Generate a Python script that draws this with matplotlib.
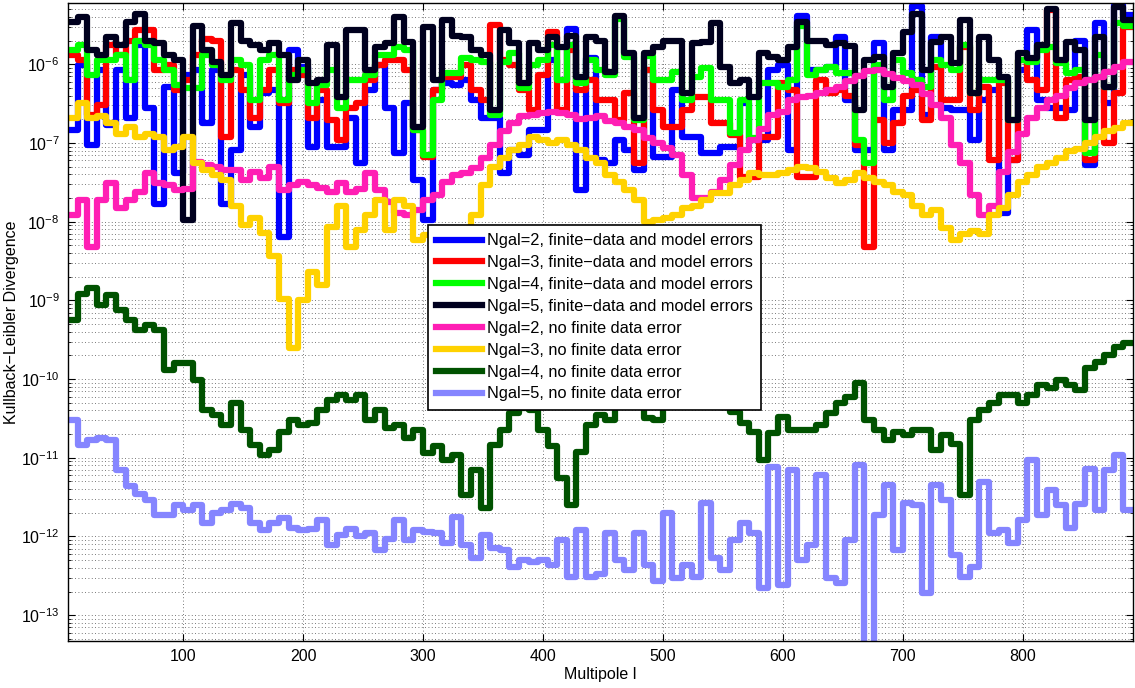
import numpy as np
import matplotlib.pyplot as plt
from matplotlib import ticker

plt.rcParams['font.family'] = ['Liberation Sans', 'DejaVu Sans']
plt.rcParams['mathtext.default'] = 'regular'

# multipole bins, 8 wide, from l=4 to l=892
ell_edges = np.linspace(4, 892, 112)

# finite-data and model errors
kl_full_2 = [
    1.45e-7, 9.7e-7, 9.3e-8, 8.4e-7, 1.68e-7, 8.4e-7, 2.1e-7, 1.75e-6, 2.8e-7, 1.7e-8,
    5.1e-7, 4.1e-8, 7.2e-7, 8.4e-7, 1.78e-7, 8.4e-7, 1.7e-8, 8.1e-8, 7.2e-7, 1.58e-7,
    4.3e-7, 4.7e-7, 6.3e-9, 1.5e-6, 9.2e-7, 8.8e-8, 3.5e-7, 8.8e-8, 8.8e-8, 2.1e-7,
    5.5e-8, 4.7e-7, 9.7e-7, 2.8e-7, 7.4e-8, 3.2e-7, 3.4e-8, 1.04e-8, 4.7e-7, 5.7e-7,
    5.4e-7, 6.3e-7, 3.5e-7, 2.1e-7, 2.06e-7, 4.1e-8, 8.1e-8, 7.0e-8, 1.45e-7, 1.45e-7,
    1.12e-6, 6.3e-7, 2.8e-6, 2.5e-8, 1.19e-6, 6.0e-8, 5.5e-8, 1.08e-7, 8.1e-8, 4.5e-8,
    8.4e-7, 6.6e-8, 6.6e-8, 4.7e-7, 1.18e-7, 1.18e-7, 7.4e-8, 7.4e-8, 8.8e-8, 8.8e-8,
    3.2e-7, 1.08e-7, 1.08e-7, 8.4e-7, 9.7e-7, 8.1e-8, 4.1e-6, 8.4e-7, 8.4e-7, 9.2e-7,
    2.2e-6, 3.5e-7, 8.1e-8, 8.1e-8, 1.85e-6, 8.1e-8, 2.6e-7, 2.6e-7, 5.5e-6, 2.25e-7,
    2.2e-6, 2.8e-7, 2.6e-7, 2.6e-7, 1.08e-7, 3.5e-7, 4.7e-7, 1.28e-8, 6.0e-8, 8.4e-7,
    2.7e-6, 3.5e-7, 2.8e-7, 2.8e-7, 2.6e-7, 2.0e-6, 5.2e-8, 3.3e-6, 3.2e-7, 5.6e-6, 4.2e-6]

kl_full_3 = [
    1.3e-6, 1.12e-6, 2.25e-7, 3.0e-7, 1.75e-6, 1.3e-6, 2.0e-6, 2.7e-6, 2.7e-6, 8.4e-7,
    9.7e-7, 4.7e-7, 6.3e-7, 1.3e-6, 2.1e-6, 2.0e-6, 1.18e-7, 8.4e-7, 4.7e-7, 2.1e-7,
    4.7e-7, 8.4e-7, 3.2e-7, 8.4e-7, 7.2e-7, 2.06e-7, 4.7e-7, 1.94e-7, 1.08e-7, 2.8e-7,
    3.2e-7, 6.3e-7, 9.7e-7, 1.12e-6, 1.12e-6, 8.4e-7, 1.45e-7, 6.6e-8, 4.7e-7, 6.8e-7,
    6.8e-7, 9.7e-7, 4.7e-7, 3.5e-7, 3.2e-6, 1.12e-6, 9.7e-7, 4.7e-7, 2.6e-7, 7.2e-7,
    2.55e-6, 2.6e-7, 1.5e-6, 4.7e-7, 6.3e-7, 3.5e-7, 3.5e-7, 1.94e-7, 4.3e-7, 5.5e-8,
    8.4e-7, 2.6e-7, 1.58e-7, 1.58e-7, 2.6e-7, 3.8e-7, 3.8e-7, 1.78e-7, 1.78e-7, 1.25e-7,
    3.7e-8, 3.7e-8, 1.18e-7, 1.18e-7, 5.7e-7, 4.7e-7, 3.7e-8, 3.7e-8, 6.3e-7, 4.3e-7,
    4.7e-7, 4.0e-7, 9.3e-8, 4.7e-9, 1.94e-7, 9.9e-8, 1.78e-7, 4.0e-7, 4.7e-7, 1.94e-7,
    9.2e-7, 3.5e-7, 3.5e-7, 1.65e-6, 2.6e-7, 5.1e-7, 6.0e-8, 5.7e-7, 6.0e-8, 1.12e-6,
    6.3e-7, 4.7e-7, 4.9e-6, 2.1e-7, 6.3e-7, 6.8e-7, 6.0e-8, 6.8e-7, 9.9e-8, 4.3e-7, 3.0e-6]

kl_full_4 = [
    1.5e-6, 1.75e-6, 7.2e-7, 1.12e-6, 1.12e-6, 1.3e-6, 6.3e-7, 2.0e-6, 1.75e-6, 1.12e-6,
    8.4e-7, 5.4e-7, 5.0e-7, 5.0e-7, 1.3e-6, 9.7e-7, 6.3e-7, 1.12e-6, 9.7e-7, 3.5e-7,
    1.12e-6, 1.3e-6, 3.5e-7, 7.2e-7, 8.4e-7, 3.2e-7, 5.4e-7, 8.4e-7, 2.8e-7, 6.3e-7,
    6.3e-7, 7.2e-7, 1.3e-6, 1.3e-6, 1.65e-6, 1.5e-6, 1.45e-7, 7.0e-8, 3.5e-7, 7.7e-7,
    7.7e-7, 1.19e-6, 1.12e-6, 1.06e-6, 2.25e-7, 1.06e-6, 1.4e-6, 5.0e-7, 9.7e-7, 1.12e-6,
    1.75e-6, 6.3e-7, 1.75e-6, 5.7e-7, 1.12e-6, 8.4e-7, 7.2e-7, 3.8e-6, 1.23e-6, 1.94e-7,
    1.26e-6, 6.3e-7, 6.3e-7, 7.9e-7, 3.5e-7, 6.8e-7, 8.9e-7, 3.5e-7, 3.5e-7, 1.33e-7,
    3.5e-7, 1.15e-7, 5.7e-7, 5.7e-7, 5.1e-7, 6.3e-7, 3.1e-6, 7.2e-7, 8.4e-7, 9.2e-7,
    7.7e-7, 7.7e-7, 1.08e-7, 5.5e-8, 9.7e-7, 3.5e-7, 1.12e-6, 7.7e-7, 6.3e-7, 5.1e-7,
    1.12e-6, 9.7e-7, 8.4e-7, 1.75e-6, 4.3e-7, 6.3e-7, 6.3e-7, 6.3e-7, 1.94e-7, 1.12e-6,
    1.06e-6, 1.5e-6, 1.65e-6, 1.03e-6, 7.7e-7, 8.4e-7, 7.4e-8, 1.3e-6, 5.1e-7, 3.3e-6, 3.1e-6]

kl_full_5 = [
    3.4e-6, 4.0e-6, 1.5e-6, 1.3e-6, 2.2e-6, 1.75e-6, 3.4e-6, 4.4e-6, 2.0e-6, 1.85e-6,
    1.3e-6, 1.12e-6, 1.04e-8, 3.1e-6, 1.5e-6, 1.06e-6, 7.2e-7, 3.3e-6, 2.0e-6, 1.75e-6,
    1.5e-6, 1.85e-6, 1.3e-6, 6.3e-7, 1.12e-6, 5.7e-7, 6.3e-7, 1.75e-6, 3.8e-7, 2.7e-6,
    2.7e-6, 8.4e-7, 1.65e-6, 1.85e-6, 4.0e-6, 1.9e-6, 1.6e-7, 3.0e-6, 6.3e-7, 3.6e-6,
    2.3e-6, 2.2e-6, 1.5e-6, 1.3e-6, 2.6e-7, 2.7e-6, 1.85e-6, 5.7e-7, 1.85e-6, 1.5e-6,
    2.2e-6, 1.65e-6, 2.3e-6, 6.8e-7, 2.2e-6, 2.0e-6, 7.9e-7, 4.1e-6, 1.4e-6, 2.1e-7,
    1.38e-6, 1.65e-6, 2.0e-6, 2.0e-6, 4.3e-7, 1.85e-6, 1.9e-6, 3.3e-6, 9.2e-7, 5.7e-7,
    6.3e-7, 3.8e-7, 1.38e-6, 1.23e-6, 1.12e-6, 1.65e-6, 3.4e-6, 2.0e-6, 2.0e-6, 1.75e-6,
    1.85e-6, 1.7e-6, 2.6e-7, 1.12e-6, 1.23e-6, 5.1e-7, 1.4e-6, 2.55e-6, 4.4e-6, 8.4e-7,
    1.9e-6, 2.2e-6, 1.03e-6, 3.6e-6, 4.3e-7, 2.2e-6, 1.12e-6, 6.8e-7, 1.94e-7, 1.38e-6,
    1.19e-6, 1.75e-6, 5.1e-6, 1.12e-6, 1.9e-6, 1.5e-6, 1.94e-7, 2.2e-6, 5.1e-7, 5.3e-6, 3.6e-6]

# no finite data error
kl_model_2 = [
    1.2e-8, 1.9e-8, 4.7e-9, 1.9e-8, 3.1e-8, 1.5e-8, 1.9e-8, 2.4e-8, 4.1e-8, 3.1e-8,
    2.9e-8, 2.5e-8, 2.6e-8, 5.7e-8, 5.2e-8, 4.9e-8, 4.5e-8, 4.5e-8, 3.4e-8, 4.3e-8,
    3.6e-8, 4.9e-8, 2.5e-8, 2.9e-8, 3.2e-8, 2.9e-8, 2.7e-8, 2.4e-8, 3.1e-8, 2.4e-8,
    2.6e-8, 4.1e-8, 2.5e-8, 1.8e-8, 1.3e-8, 1.2e-8, 1.4e-8, 1.9e-8, 2.2e-8, 3.2e-8,
    3.9e-8, 4.1e-8, 4.8e-8, 6.4e-8, 9.3e-8, 1.4e-7, 1.8e-7, 2.2e-7, 2.25e-7, 2.4e-7,
    2.5e-7, 2.4e-7, 2.3e-7, 2.0e-7, 2.1e-7, 2.2e-7, 1.9e-7, 1.8e-7, 1.6e-7, 1.45e-7,
    1.15e-7, 1.0e-7, 8.6e-8, 7.0e-8, 3.9e-8, 2.0e-8, 2.0e-8, 2.4e-8, 3.4e-8, 5.2e-8,
    8.1e-8, 1.1e-7, 1.5e-7, 2.25e-7, 2.45e-7, 3.5e-7, 3.8e-7, 3.9e-7, 4.3e-7, 4.7e-7,
    5.1e-7, 6.1e-7, 7.0e-7, 8.1e-7, 8.4e-7, 7.5e-7, 6.6e-7, 6.1e-7, 5.4e-7, 4.2e-7,
    3.0e-7, 2.05e-7, 9.3e-8, 5.5e-8, 2.2e-8, 1.2e-8, 1.6e-8, 4.3e-8, 7.6e-8, 1.3e-7,
    2.05e-7, 2.8e-7, 3.5e-7, 4.0e-7, 5.0e-7, 5.7e-7, 6.3e-7, 6.8e-7, 7.9e-7, 9.2e-7, 1.06e-6]

kl_model_3 = [
    2.1e-7, 3.2e-7, 2.1e-7, 2.2e-7, 1.8e-7, 1.3e-7, 1.6e-7, 1.2e-7, 1.3e-7, 1.2e-7,
    8.1e-8, 8.8e-8, 1.2e-7, 5.5e-8, 4.5e-8, 3.9e-8, 3.4e-8, 1.6e-8, 9.0e-9, 1.1e-8,
    7.1e-9, 3.7e-9, 1.05e-9, 2.5e-10, 1.0e-9, 2.3e-9, 1.55e-9, 8.5e-9, 1.6e-8, 4.7e-9,
    7.8e-9, 1.2e-8, 1.9e-8, 7.8e-9, 1.9e-8, 1.6e-8, 5.8e-9, 6.7e-9, 5.8e-9, 5.0e-9,
    5.8e-9, 7.8e-9, 1.2e-8, 2.9e-8, 5.0e-8, 6.4e-8, 8.1e-8, 9.3e-8, 1.2e-7, 1.1e-7,
    1.0e-7, 1.1e-7, 9.3e-8, 8.1e-8, 6.4e-8, 5.5e-8, 3.9e-8, 3.2e-8, 2.5e-8, 1.9e-8,
    9.8e-9, 1.04e-8, 1.1e-8, 1.2e-8, 1.5e-8, 1.6e-8, 1.9e-8, 2.3e-8, 2.3e-8, 2.9e-8,
    3.4e-8, 4.1e-8, 3.9e-8, 3.9e-8, 4.1e-8, 4.5e-8, 4.9e-8, 4.8e-8, 4.3e-8, 3.6e-8,
    3.1e-8, 3.4e-8, 4.1e-8, 3.6e-8, 3.2e-8, 2.9e-8, 2.4e-8, 2.2e-8, 1.6e-8, 1.2e-8,
    1.4e-8, 8.3e-9, 5.8e-9, 6.9e-9, 7.6e-9, 6.9e-9, 1.2e-8, 1.5e-8, 2.2e-8, 3.2e-8,
    3.9e-8, 4.9e-8, 5.5e-8, 6.4e-8, 7.8e-8, 8.3e-8, 1.0e-7, 1.2e-7, 1.4e-7, 1.55e-7, 1.8e-7]

kl_model_4 = [
    5.6e-10, 1.2e-9, 1.45e-9, 8.7e-10, 1.16e-9, 7.5e-10, 5.6e-10, 4.2e-10, 4.9e-10, 4.2e-10,
    1.3e-10, 1.6e-10, 1.6e-10, 9.7e-11, 4.0e-11, 3.5e-11, 2.6e-11, 5.0e-11, 2.25e-11, 1.45e-11,
    1.08e-11, 1.25e-11, 2.1e-11, 3.0e-11, 2.6e-11, 2.8e-11, 4.0e-11, 5.4e-11, 6.3e-11, 5.4e-11,
    6.3e-11, 3.0e-11, 4.0e-11, 2.4e-11, 2.6e-11, 1.8e-11, 2.25e-11, 1.15e-11, 1.4e-11, 9.3e-12,
    1.08e-11, 3.4e-12, 7.0e-12, 2.3e-12, 1.45e-11, 2.25e-11, 3.7e-11, 4.3e-11, 4.0e-11, 2.25e-11,
    1.4e-11, 5.5e-12, 2.5e-12, 1.2e-11, 2.6e-11, 3.5e-11, 3.0e-11, 4.7e-11, 5.4e-11, 4.7e-11,
    3.2e-11, 3.0e-11, 5.4e-11, 5.8e-11, 5.8e-11, 5.8e-11, 5.8e-11, 5.4e-11, 4.4e-11, 3.8e-11,
    2.8e-11, 2.1e-11, 9.3e-12, 2.05e-11, 3.3e-11, 2.25e-11, 2.25e-11, 2.25e-11, 2.6e-11, 3.7e-11,
    5.0e-11, 5.9e-11, 8.8e-11, 3.0e-11, 2.25e-11, 1.68e-11, 2.1e-11, 1.94e-11, 2.25e-11, 2.25e-11,
    1.25e-11, 1.94e-11, 1.5e-11, 3.4e-12, 3.0e-11, 4.0e-11, 5.0e-11, 6.3e-11, 6.3e-11, 5.0e-11,
    6.3e-11, 8.4e-11, 7.7e-11, 9.7e-11, 8.4e-11, 7.2e-11, 1.4e-10, 1.65e-10, 2.0e-10, 2.55e-10, 2.85e-10]

kl_model_5 = [
    3.0e-11, 1.45e-11, 1.68e-11, 1.8e-11, 1.68e-11, 7.0e-12, 4.4e-12, 3.5e-12, 2.9e-12, 1.87e-12,
    1.87e-12, 2.5e-12, 2.2e-12, 2.5e-12, 1.5e-12, 2.0e-12, 2.2e-12, 2.6e-12, 2.3e-12, 1.5e-12,
    1.2e-12, 1.5e-12, 1.7e-12, 1.3e-12, 1.2e-12, 1.25e-12, 1.6e-12, 7.8e-13, 1.04e-12, 1.25e-12,
    1.0e-12, 1.1e-12, 6.7e-13, 9.3e-13, 1.6e-12, 9.0e-13, 1.2e-12, 1.15e-12, 1.1e-12, 8.3e-13,
    1.75e-12, 7.8e-13, 5.4e-13, 1.04e-12, 7.1e-13, 6.7e-13, 4.1e-13, 5.0e-13, 4.7e-13, 5.0e-13,
    4.3e-13, 9.0e-13, 3.1e-13, 1.2e-12, 3.1e-13, 3.3e-13, 1.1e-12, 5.0e-13, 3.7e-13, 1.1e-12,
    4.3e-13, 2.7e-13, 2.0e-12, 3.0e-13, 4.3e-13, 3.1e-13, 2.7e-12, 5.4e-13, 3.7e-13, 9.0e-13,
    1.5e-12, 1.1e-12, 2.2e-13, 7.6e-12, 2.4e-13, 7.0e-12, 5.0e-13, 7.8e-13, 6.0e-12, 3.0e-13,
    2.6e-13, 9.0e-13, 8.1e-12, 2.8e-14, 1.87e-12, 4.5e-12, 6.7e-13, 2.7e-12, 2.5e-12, 1.9e-13,
    4.5e-12, 2.9e-12, 5.8e-13, 3.1e-13, 4.1e-13, 4.9e-12, 1.1e-12, 1.2e-12, 8.3e-13, 1.6e-12,
    9.3e-12, 1.87e-12, 3.9e-12, 2.5e-12, 1.3e-12, 2.6e-12, 7.3e-12, 2.2e-12, 7.0e-12, 1.08e-11, 2.2e-12]

labels = ['Ngal=2, finite\u2212data and model errors',
          'Ngal=3, finite\u2212data and model errors',
          'Ngal=4, finite\u2212data and model errors',
          'Ngal=5, finite\u2212data and model errors',
          'Ngal=2, no finite data error',
          'Ngal=3, no finite data error',
          'Ngal=4, no finite data error',
          'Ngal=5, no finite data error']
colors = ['#0000ff', '#ff0000', '#00ff00', '#00001e',
          '#ff1eb4', '#ffd200', '#005200', '#8585ff']
curves = [kl_full_2, kl_full_3, kl_full_4, kl_full_5,
          kl_model_2, kl_model_3, kl_model_4, kl_model_5]

fig = plt.figure(figsize=(11.35, 6.88), dpi=100)
ax = fig.add_axes([0.0599, 0.0683, 0.9383, 0.9273])

for vals, col, lab in zip(curves, colors, labels):
    ax.stairs(vals, ell_edges, baseline=None, color=col, lw=4.5,
              joinstyle='round', label=lab)

ax.set_yscale('log')
ax.set_xlim(4, 892)
ax.set_ylim(4.7e-14, 6e-6)
ax.set_xticks(np.arange(100, 900, 100))
ax.set_yticks(10.0 ** np.arange(-13, -5))
ax.yaxis.set_minor_locator(ticker.LogLocator(base=10, subs=np.arange(2, 10) * 1.0, numticks=100))
ax.yaxis.set_minor_formatter(ticker.NullFormatter())

# matlab style dotted grid
ax.set_axisbelow(True)
ax.grid(True, which='both', axis='y', ls=(0, (1, 3)), lw=0.6, color='0.3')
ax.grid(True, which='major', axis='x', ls=(0, (1, 3)), lw=0.6, color='0.3')

ax.tick_params(which='both', direction='in', top=True, right=True, labelsize=11.5)
ax.tick_params(which='major', length=5, width=0.8, pad=6)
ax.tick_params(which='minor', length=2.5, width=0.6)
for sp in ax.spines.values():
    sp.set_linewidth(1.0)

ax.set_xlabel('Multipole l', fontsize=11.5, labelpad=2)
ax.set_ylabel('Kullback\u2212Leibler Divergence', fontsize=11.5)
ax.yaxis.set_label_coords(-0.046, 0.5)

leg = ax.legend(loc='upper left', bbox_to_anchor=(0.338, 0.652), fontsize=11.8,
                fancybox=False, framealpha=1, edgecolor='black',
                handlelength=2.8, handletextpad=0.3, labelspacing=0.42,
                borderpad=0.5, borderaxespad=0)
leg.get_frame().set_linewidth(1.2)

fig.savefig('out.png', dpi=100)
